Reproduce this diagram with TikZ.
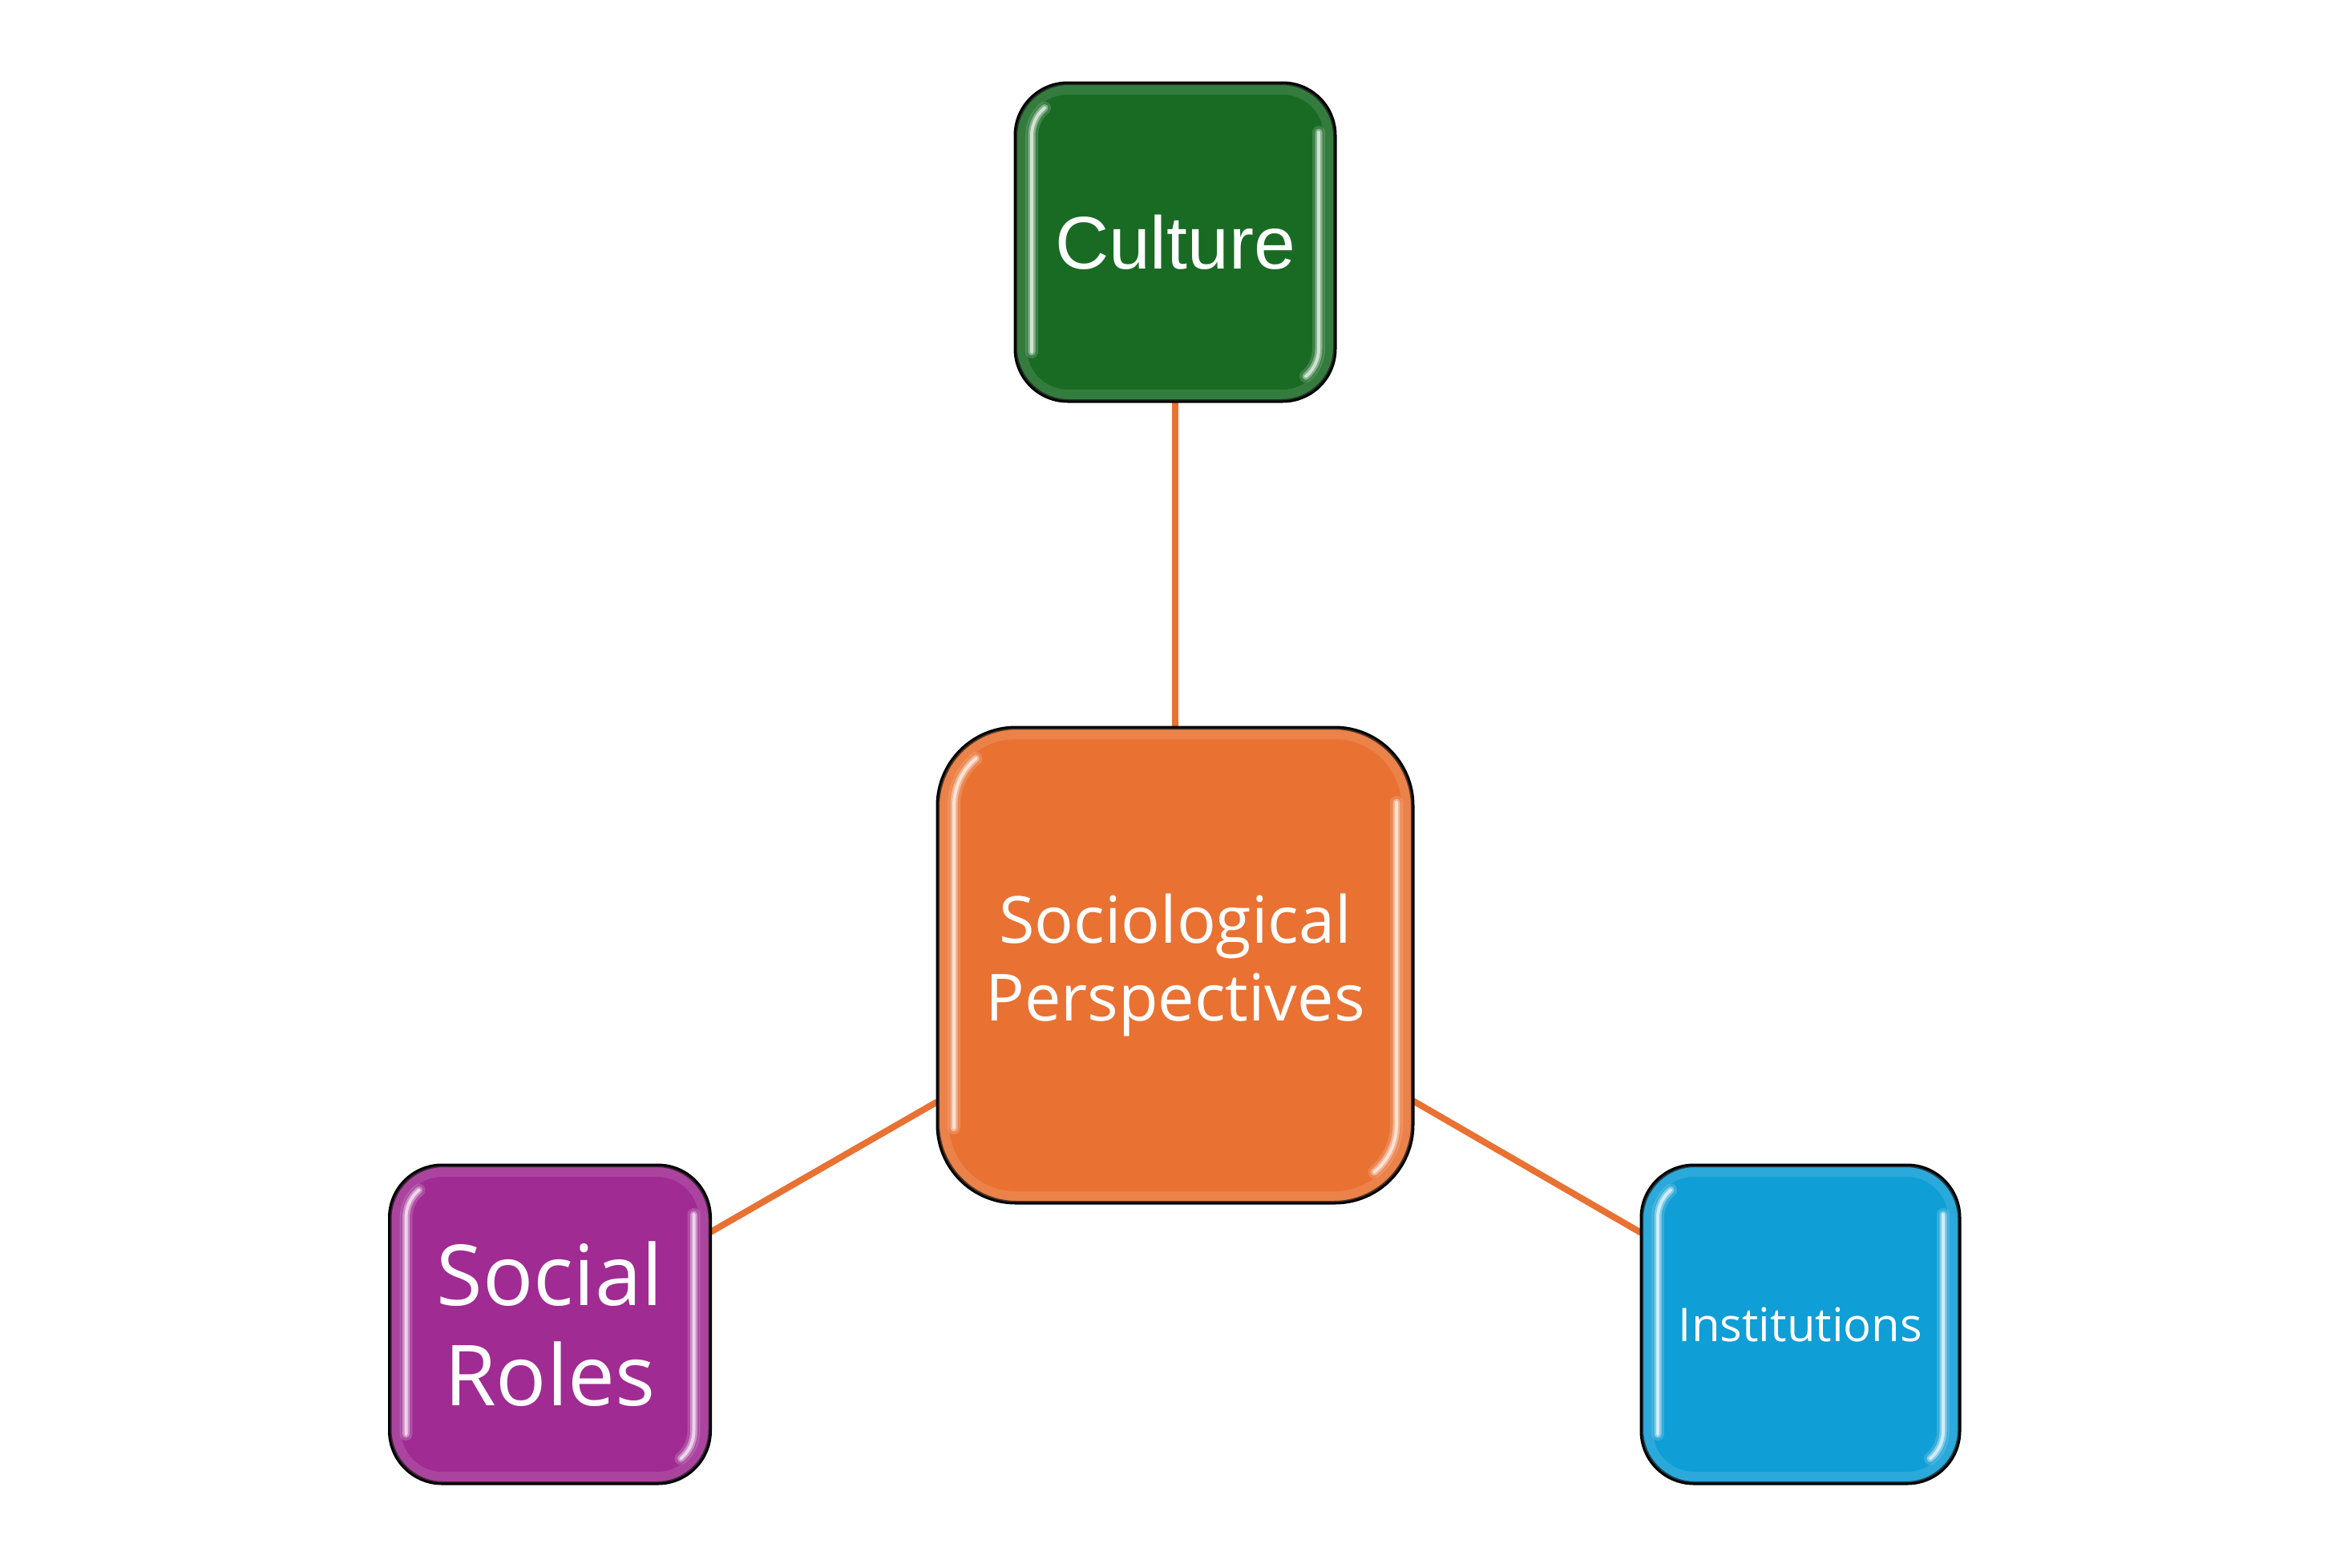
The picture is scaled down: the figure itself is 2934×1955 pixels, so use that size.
\documentclass[tikz,border=0pt]{standalone}
\usepackage{fontspec}
\setmainfont{Open Sans}
\newfontfamily\arialf{Liberation Sans}
\usetikzlibrary{calc,backgrounds}
\definecolor{cOrange}{HTML}{E97132}
\definecolor{cGreen}{HTML}{196B24}
\definecolor{cPurple}{HTML}{A02B93}
\definecolor{cBlue}{HTML}{0F9ED5}
\tikzset{
  box/.style={draw=black, line width=3pt, rounded corners=#1, inner sep=0pt,
    text=white, align=center},
  conn/.style={draw=cOrange, line width=8pt},
}
% glossy decoration: node name, colour, corner radius (number)
\newcommand\glossy[3]{%
  \draw[#2!60!white, line width=14pt, opacity=.3, rounded corners={(#3-8)*1pt}]
    ($(#1.north west)+(8,-8)$) rectangle ($(#1.south east)+(-8,8)$);
  \foreach \lw/\mix/\op in {16/60/.4, 9/40/.7, 4/20/1}{
    \draw[#2!\mix!white, line width=\lw pt, opacity=\op, line cap=round]
      ($(#1.south west)+(21,{#3-4})$) -- ($(#1.north west)+(21,-#3)$)
      arc[start angle=180, end angle=130, radius={#3-21}];
    \draw[#2!\mix!white, line width=\lw pt, opacity=\op, line cap=round]
      ($(#1.north east)+(-21,{-#3+4})$) -- ($(#1.south east)+(-21,#3)$)
      arc[start angle=0, end angle=-50, radius={#3-21}];
  }%
}
\begin{document}
\begin{tikzpicture}[x=1pt,y=1pt]
\useasboundingbox (0,0) rectangle (2934,-1955);

\node[box=98pt, fill=cOrange, minimum width=591pt, minimum height=591pt,
  font=\fontsize{81}{97}\selectfont]
  (center) at (1466,-1204) {Sociological\\Perspectives};
\node[box=66pt, fill=cGreen, minimum width=397pt, minimum height=395pt,
  font=\arialf\fontsize{93}{110}\selectfont]
  (culture) at (1466,-302) {Culture};
\node[box=66pt, fill=cPurple, minimum width=398pt, minimum height=395pt,
  font=\fontsize{105}{125}\selectfont]
  (roles) at (686,-1652) {Social\\Roles};
\node[box=66pt, fill=cBlue, minimum width=395pt, minimum height=395pt,
  font=\fontsize{58}{70}\selectfont]
  (inst) at (2246,-1652) {Institutions};

\begin{scope}[on background layer]
  \fill[white] (0,0) rectangle (2934,-1955);
  \draw[conn] (center) -- (culture);
  \draw[conn] (center) -- (roles);
  \draw[conn] (center) -- (inst);
\end{scope}

\glossy{center}{cOrange}{98}
\glossy{culture}{cGreen}{66}
\glossy{roles}{cPurple}{66}
\glossy{inst}{cBlue}{66}

% redraw outlines on top
\foreach \n/\r in {center/98, culture/66, roles/66, inst/66}{
  \draw[black, line width=3pt, rounded corners=\r pt]
    (\n.north west) rectangle (\n.south east);
}
\end{tikzpicture}
\end{document}
